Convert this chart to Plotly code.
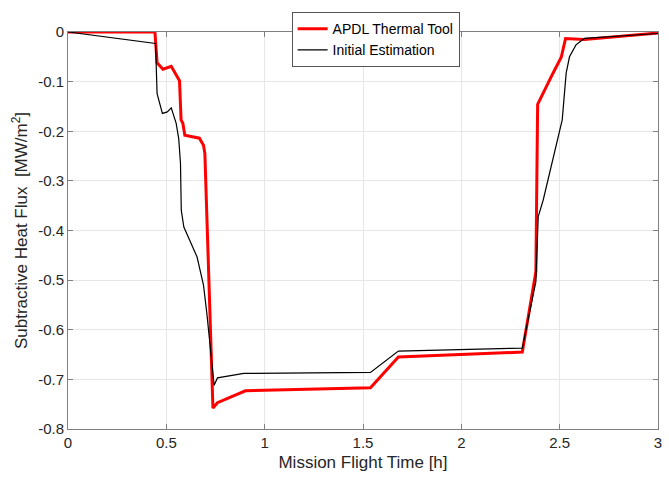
import plotly.graph_objects as go

# --- data ---
apdl_t = [0.0, 0.442, 0.453, 0.483, 0.525, 0.567, 0.575, 0.584, 0.594, 0.668, 0.689, 0.696,
          0.737, 0.760, 0.902, 1.538, 1.680, 2.310, 2.379, 2.388, 2.466, 2.508, 2.530, 2.625, 3.0]
apdl_q = [0.0, 0.0, -0.062, -0.075, -0.069, -0.098, -0.177, -0.184, -0.208, -0.214, -0.228, -0.245,
          -0.758, -0.747, -0.723, -0.717, -0.655, -0.645, -0.483, -0.146, -0.083, -0.051, -0.013, -0.015, -0.002]

init_t = [0.0, 0.445, 0.453, 0.480, 0.505, 0.525, 0.550, 0.563, 0.572, 0.576, 0.589, 0.617, 0.656,
          0.689, 0.706, 0.743, 0.760, 0.894, 1.538, 1.680, 2.310, 2.379, 2.391, 2.416, 2.490, 2.513,
          2.533, 2.550, 2.583, 2.625, 3.0]
init_q = [0.0, -0.023, -0.124, -0.164, -0.161, -0.153, -0.184, -0.215, -0.265, -0.359, -0.393, -0.419,
          -0.453, -0.510, -0.567, -0.712, -0.697, -0.688, -0.686, -0.643, -0.637, -0.503, -0.372, -0.339,
          -0.218, -0.177, -0.083, -0.050, -0.026, -0.013, -0.003]

x_ticks = [0, 0.5, 1, 1.5, 2, 2.5, 3]
x_ticklabels = ["0", "0.5", "1", "1.5", "2", "2.5", "3"]
y_ticks = [0, -0.1, -0.2, -0.3, -0.4, -0.5, -0.6, -0.7, -0.8]
y_ticklabels = ["0", "-0.1", "-0.2", "-0.3", "-0.4", "-0.5", "-0.6", "-0.7", "-0.8"]

series_names = ["APDL Thermal Tool", "Initial Estimation"]

FONT = "Liberation Sans, Arial, Helvetica, sans-serif"
AX = "#808080"
TXT = "#262626"

fig = go.Figure()
fig.add_trace(go.Scatter(x=apdl_t, y=apdl_q, mode="lines", name=series_names[0],
                         line=dict(color="#ff0000", width=3)))
fig.add_trace(go.Scatter(x=init_t, y=init_q, mode="lines", name=series_names[1],
                         line=dict(color="#000000", width=1.2)))

axis_common = dict(
    showline=True, linecolor=AX, linewidth=1, mirror="ticks",
    ticks="inside", ticklen=5, tickcolor=AX, tickwidth=1,
    showgrid=True, gridcolor="#e6e6e6", gridwidth=1,
    zeroline=False,
    tickfont=dict(family=FONT, size=15, color=TXT),
)

fig.update_xaxes(range=[0, 3], tickvals=x_ticks, ticktext=x_ticklabels,
                 title=dict(text="Mission Flight Time [h]", font=dict(family=FONT, size=17, color=TXT),
                            standoff=6),
                 **axis_common)
fig.update_yaxes(range=[-0.8, 0], tickvals=y_ticks, ticktext=y_ticklabels,
                 title=dict(text="Subtractive Heat Flux  [MW/m<sup>2</sup>]",
                            font=dict(family=FONT, size=17, color=TXT), standoff=6),
                 **axis_common)

fig.update_layout(
    width=669, height=479,
    margin=dict(l=68, r=7, t=32, b=50),
    paper_bgcolor="white", plot_bgcolor="white",
    font=dict(family=FONT, color=TXT),
    legend=dict(x=0.379, y=1.05, xanchor="left", yanchor="top",
                bgcolor="white", bordercolor="#555555", borderwidth=1,
                font=dict(family=FONT, size=14, color="#000000"),
                itemwidth=30, tracegroupgap=0),
    showlegend=True,
)

fig.write_html("out.html")
